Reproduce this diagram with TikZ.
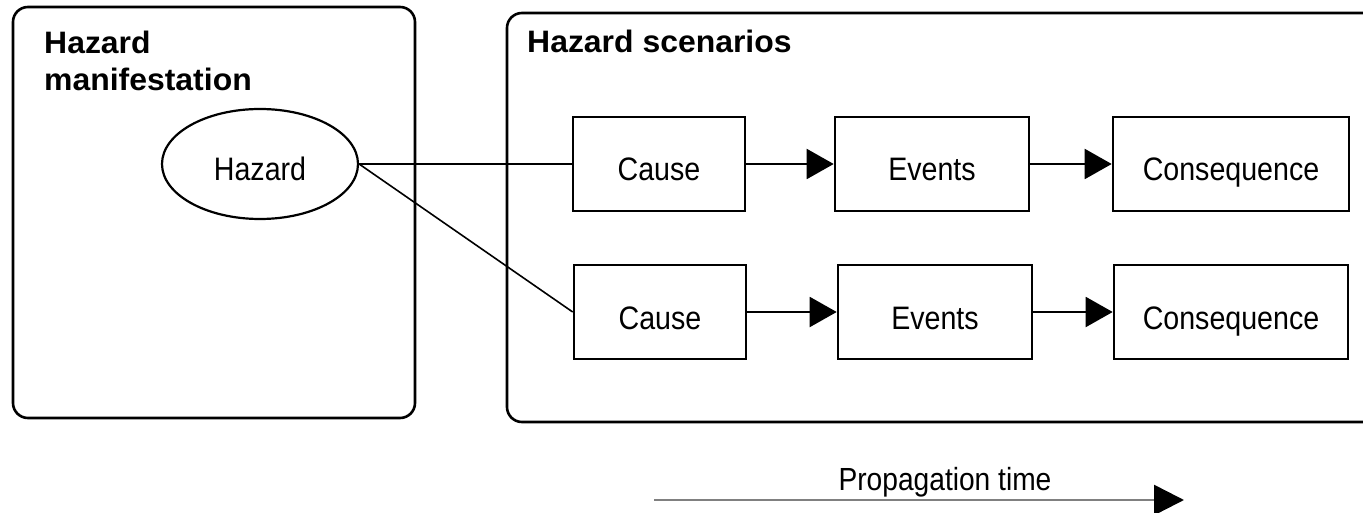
\documentclass[tikz,border=0pt]{standalone}
\usepackage{fontspec}
\setmainfont{Liberation Sans}
\newfontfamily\boxfont{Liberation Sans}[FakeStretch=0.88]
\newfontfamily\titlefont{Liberation Sans}[FakeStretch=1.03]
\usetikzlibrary{arrows.meta,shapes.geometric}
\begin{document}
\begin{tikzpicture}[x=1pt,y=-1pt,
  panel/.style={draw,line width=2.6pt,rounded corners=15pt,inner sep=0pt},
  boxtext/.style={font=\boxfont\fontsize{32.5}{38}\selectfont,text height=34pt,text depth=0pt},
  stepbox/.style={draw,line width=2.6pt,inner sep=0pt,minimum height=94pt,boxtext},
  title/.style={inner sep=0pt,anchor=base west,align=left,
    font=\titlefont\bfseries\fontsize{31}{37}\selectfont},
  link/.style={line width=1.6pt},
  flow/.style={line width=2pt,-{Triangle[length=27pt,width=30pt]}},
  timeline/.style={line width=2.6pt,draw={rgb,255:red,128;green,128;blue,128},
    -{Triangle[length=30pt,width=30pt,fill=black,color=black]}},
]
\useasboundingbox (0,0) rectangle (1363,513);

% containers
\node[panel,minimum width=402pt,minimum height=411pt] (left) at (214,212.5) {};
\node[panel,minimum width=886pt,minimum height=409pt] (right) at (950,217.5) {};

\node[title] (ltitle) at (44,91) {Hazard\\manifestation};
\node[title] (rtitle) at (527,53) {Hazard scenarios};

% hazard
\node[ellipse,draw,line width=2.2pt,minimum width=196pt,minimum height=110pt,inner sep=0pt,
  boxtext] (haz) at (260,164) {Hazard};

% row 1
\node[stepbox,minimum width=172pt] (c1) at (659,164) {Cause};
\node[stepbox,minimum width=194pt] (e1) at (932,164) {Events};
\node[stepbox,minimum width=236pt] (q1) at (1231,164) {Consequence};
% row 2
\node[stepbox,minimum width=172pt] (c2) at (660,312) {Cause};
\node[stepbox,minimum width=194pt] (e2) at (935,312) {Events};
\node[stepbox,minimum width=234pt] (q2) at (1231,312) {Consequence};

\draw[link] (haz.east) -- (c1.west);
\draw[link] (haz.east) -- (c2.west);
\draw[flow] (c1) -- (e1);
\draw[flow] (e1) -- (q1);
\draw[flow] (c2) -- (e2);
\draw[flow] (e2) -- (q2);

% propagation time
\coordinate (ts) at (654,500);
\coordinate (te) at (1184,500);
\draw[timeline] (ts) -- (te);
\node[inner sep=0pt,anchor=base,font=\boxfont\fontsize{32}{38}\selectfont] (tlabel) at (945,490) {Propagation time};
\end{tikzpicture}
\end{document}
